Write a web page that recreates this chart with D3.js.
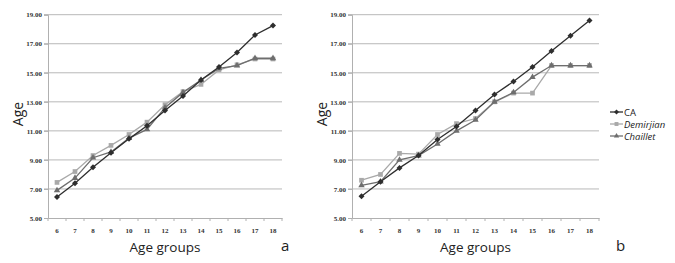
<!DOCTYPE html>
<html><head><meta charset="utf-8">
<script src="https://cdn.jsdelivr.net/npm/d3@7"></script>
<style>body{margin:0;background:#fff}svg{display:block}</style>
</head><body>
<svg id="c" width="675" height="263"></svg>
<script>
const categories = ["6","7","8","9","10","11","12","13","14","15","16","17","18"];
const yTicks = [5,7,9,11,13,15,17,19];
const seriesNames = ["CA","Demirjian","Chaillet"];
const caA = [6.45,7.4,8.5,9.5,10.45,11.35,12.4,13.4,14.5,15.4,16.4,17.6,18.25];
const demA = [7.45,8.2,9.3,10.0,10.75,11.6,12.8,13.7,14.2,15.2,15.55,15.95,15.95];
const chaA = [6.9,7.75,9.15,9.55,10.5,11.1,12.6,13.65,14.5,15.3,15.5,16.0,16.0];
const caB = [6.5,7.5,8.45,9.3,10.4,11.3,12.4,13.5,14.4,15.4,16.5,17.55,18.6];
const demB = [7.6,8.0,9.45,9.4,10.75,11.5,11.85,13.0,13.6,13.6,15.5,15.5,15.5];
const chaB = [7.25,7.5,9.0,9.3,10.1,11.0,11.75,13.0,13.65,14.7,15.5,15.5,15.5];

const svg = d3.select("#c");
const diamondSym = {draw(ctx, size){ const r = Math.sqrt(size/2); ctx.moveTo(0,-r); ctx.lineTo(r,0); ctx.lineTo(0,r); ctx.lineTo(-r,0); ctx.closePath(); }};
const styles = {
  CA: {color:"#2e2e2e", marker:diamondSym, size:18, fill:"#2e2e2e"},
  Demirjian: {color:"#a9a9a9", marker:d3.symbolSquare, size:22, fill:"#a9a9a9"},
  Chaillet: {color:"#6e6e6e", marker:d3.symbolTriangle, size:18, fill:"#6e6e6e"}
};

function panel(x0, x1, data, letter, ageX, letterX) {
  const g = svg.append("g");
  const x = d3.scaleBand().domain(categories).range([x0, x1]);
  const y = d3.scaleLinear().domain([5,19]).range([218, 14.7]);
  g.selectAll("line.grid").data(yTicks.slice(1)).join("line")
    .attr("x1", x0-4).attr("x2", x1).attr("y1", d=>y(d)).attr("y2", d=>y(d))
    .attr("stroke", "#b8b8b8").attr("stroke-width", 1);
  const ya = g.append("g").attr("transform", `translate(${x0},0)`)
    .call(d3.axisLeft(y).tickValues(yTicks).tickSize(4).tickFormat(d=>d3.format(".2f")(d)));
  ya.select(".domain").attr("stroke", "#b0b0b0");
  ya.selectAll(".tick line").attr("stroke", "#b0b0b0");
  ya.selectAll("text").attr("font-family", "Liberation Serif, serif").attr("font-weight", "bold")
    .attr("font-size", 7).attr("fill", "#333").attr("x", -6);
  const xa = g.append("g").attr("transform", "translate(0,218)")
    .call(d3.axisBottom(x).tickSize(0).tickPadding(10));
  xa.select(".domain").attr("stroke", "#b0b0b0");
  xa.selectAll("text").attr("font-family", "Liberation Serif, serif").attr("font-weight", "bold")
    .attr("font-size", 7).attr("fill", "#333");
  g.selectAll("line.bt").data(categories.concat(["end"])).join("line")
    .attr("x1", (d,i)=> x0 + i*x.step()).attr("x2", (d,i)=> x0 + i*x.step())
    .attr("y1", 218).attr("y2", 221).attr("stroke", "#b0b0b0");
  const order = [1,2,0];
  order.forEach(si => {
    const name = seriesNames[si];
    const vals = data[si];
    const st = styles[name];
    const pts = vals.map((v,i)=>[x(categories[i]) + x.bandwidth()/2, y(v)]);
    g.append("path").attr("d", d3.line()(pts)).attr("fill","none")
      .attr("stroke", st.color).attr("stroke-width", 1.3);
    g.selectAll(null).data(pts).join("path")
      .attr("transform", d=>`translate(${d[0]},${d[1]})`)
      .attr("d", d3.symbol().type(st.marker).size(st.size)).attr("fill", st.fill);
  });
  g.append("text").attr("x", (x0+x1)/2).attr("y", 252).attr("text-anchor","middle")
    .attr("font-family","Open Sans, sans-serif").attr("font-size", 13.5).attr("fill","#222").text("Age groups");
  g.append("text").attr("transform", `translate(${ageX},114) rotate(-90)`).attr("text-anchor","middle")
    .attr("font-family","Open Sans, sans-serif").attr("font-size", 14).attr("fill","#222").text("Age");
  g.append("text").attr("x", letterX).attr("y", 251)
    .attr("font-family","Open Sans, sans-serif").attr("font-size", 15).attr("fill","#222").text(letter);
}

panel(48, 282, [caA, demA, chaA], "a", 23, 281);
panel(352, 599, [caB, demB, chaB], "b", 327, 616);

const lg = svg.append("g");
const ly = [112, 124, 136];
seriesNames.forEach((n,i) => {
  const st = styles[n];
  lg.append("line").attr("x1", 610).attr("x2", 623).attr("y1", ly[i]).attr("y2", ly[i])
    .attr("stroke", st.color).attr("stroke-width", 1.3);
  lg.append("path").attr("transform", `translate(616.5,${ly[i]})`)
    .attr("d", d3.symbol().type(st.marker).size(st.size*0.7)).attr("fill", st.fill);
  lg.append("text").attr("x", 624).attr("y", ly[i]+3.5)
    .attr("font-family","Open Sans, sans-serif").attr("font-size", 9.5)
    .attr("font-style", i===0 ? "normal" : "italic").attr("fill","#222").text(n);
});
</script>
</body></html>
